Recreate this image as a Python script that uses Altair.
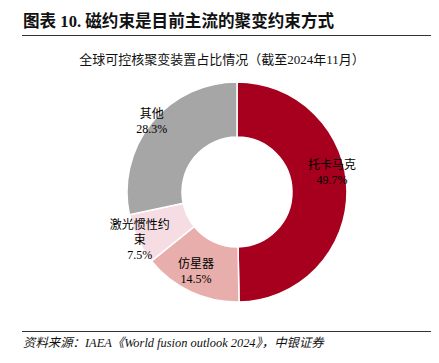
import altair as alt
import pandas as pd

# ---- data ----
categories = ["托卡马克", "仿星器", "激光惯性约束", "其他"]
shares = [49.7, 14.5, 7.5, 28.3]
label_names = ["托卡马克", "仿星器", "激光惯性约\n束", "其他"]
colors = ["#A6001E", "#E8AEAB", "#F6DDE3", "#A6A6A6"]

title_text = "图表 10. 磁约束是目前主流的聚变约束方式"
subtitle_text = "全球可控核聚变装置占比情况（截至2024年11月）"
source_text = "资料来源：IAEA《World fusion outlook 2024》，中银证券"

FONT = "Liberation Serif, Noto Sans CJK SC"

df = pd.DataFrame({
    "cat": categories,
    "share": shares,
    "order": list(range(len(categories))),
})
cum = df["share"].cumsum()
df["mid"] = cum - df["share"] / 2
df["label"] = [f"{n}\n{v}%" for n, v in zip(label_names, shares)]

CX, CY = 229, 184

color_scale = alt.Scale(domain=categories, range=colors)

arcs = alt.Chart(df).mark_arc(
    outerRadius=110, innerRadius=55, stroke="white", strokeWidth=1.5
).encode(
    theta=alt.Theta("share:Q", stack=True),
    order=alt.Order("order:Q"),
    color=alt.Color("cat:N", scale=color_scale, legend=None),
    x=alt.value(CX),
    y=alt.value(CY),
)

# per-label placement (radius, dx, dy)
placements = {
    "托卡马克": (95, 0, -26),
    "仿星器": (83, -6, -3),
    "激光惯性约束": (102, -5, -11),
    "其他": (115, 4, -6),
}

text_layers = []
for cat in categories:
    r, dx, dy = placements[cat]
    sub = df[df["cat"] == cat]
    text_layers.append(
        alt.Chart(sub).mark_text(
            radius=r, dx=dx, dy=dy, font=FONT, fontSize=12, lineBreak="\n",
            lineHeight=15, align="center", baseline="middle", color="#000000"
        ).encode(
            theta=alt.Theta("mid:Q", stack=None),
            text="label:N",
            x=alt.value(CX),
            y=alt.value(CY),
        )
    )

def txt(s, x, y, size, align="left", weight="normal", style="normal"):
    return alt.Chart(pd.DataFrame({"t": [s]})).mark_text(
        font=FONT, fontSize=size, align=align, baseline="middle",
        fontWeight=weight, fontStyle=style, color="#111111"
    ).encode(text="t:N", x=alt.value(x), y=alt.value(y))

title = txt(title_text, 15, 14, 16.6, weight="bold")
subtitle = txt(subtitle_text, 214, 52, 13, align="center")
source = txt(source_text, 15, 335, 12.4, style="italic")

top_rule = alt.Chart(pd.DataFrame({"a": [0]})).mark_rule(color="#333333", strokeWidth=1).encode(
    x=alt.value(14), x2=alt.value(427), y=alt.value(27.5)
)
bottom_rule = alt.Chart(pd.DataFrame({"a": [0]})).mark_rule(color="#333333", strokeWidth=1).encode(
    x=alt.value(14), x2=alt.value(427), y=alt.value(323.5)
)

chart = alt.layer(
    arcs, *text_layers, title, subtitle, source, top_rule, bottom_rule
).properties(
    width=423, height=347,
    autosize=alt.AutoSizeParams(type="none"),
    padding=0,
).configure_view(stroke=None)

chart.save("out.html", embed_options={"renderer": "svg", "actions": False})
